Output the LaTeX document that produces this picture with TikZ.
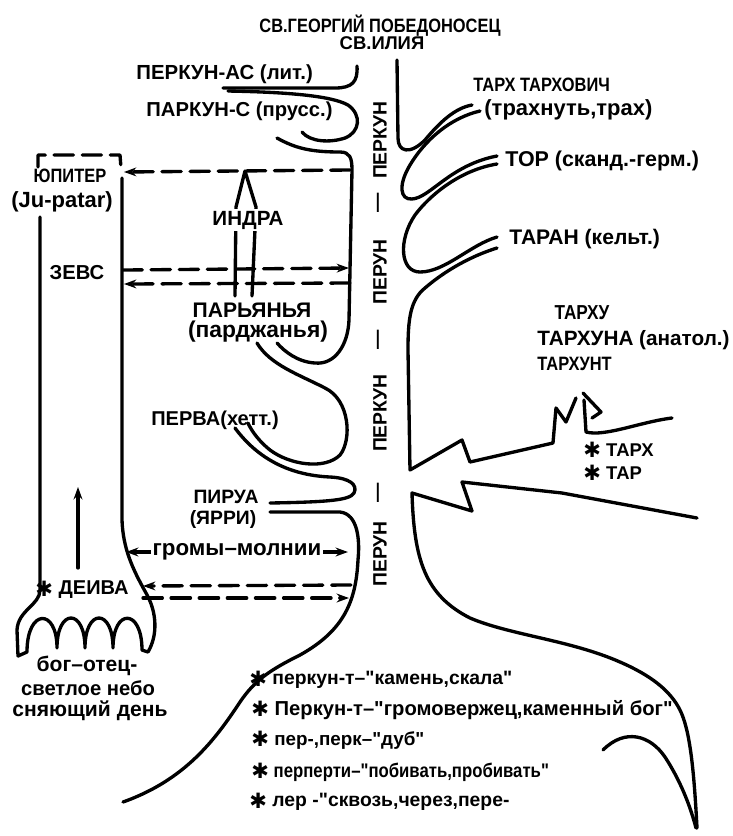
\documentclass[tikz,border=0pt]{standalone}
\usepackage{fontspec}
\newfontfamily\labf{Liberation Sans}
\newfontfamily\condf{Liberation Sans}[FakeStretch=0.85]
\newfontfamily\starfont{DejaVu Sans}
\usetikzlibrary{arrows.meta}

\newcommand\fs[1]{\fontsize{#1}{#1}\labf\bfseries}
\newcommand\fc[1]{\fontsize{#1}{#1}\condf\bfseries}
\newcommand\zv{\raisebox{-0.8pt}{\starfont\fontsize{12}{12}\selectfont ✱}}

\tikzset{
  lab/.style={inner sep=1pt,font=\fs{11}},
  vlab/.style={lab,rotate=90},
  dsh/.style={dash pattern=on 11pt off 5pt},
  cover/.style={fill=white},
}

\begin{document}
\begin{tikzpicture}[line cap=round,line join=round,>={Stealth[length=7pt,width=5pt]},x=0.2mm,y=-0.2mm,line width=1.9pt]

\useasboundingbox (0,0) rectangle (733,836);

%left edge of the trunk
\draw (357,66) .. controls (358,82) and (352,88) .. (335,88) -- (223,88); %perkun-as
\draw (228,91) .. controls (280,92) and (330,95) .. (348,105) .. controls (362,115) and (360,132) .. (345,138) .. controls (330,143) and (310,142) .. (302,132); %parkun-s
\draw (277,138) .. controls (295,148) and (310,152) .. (340,152) .. controls (350,152) and (352,158) .. (352,170) -- (349,320) .. controls (348,345) and (335,365) .. (315,363) .. controls (298,362) and (285,352) .. (277,343);
\draw (257,343) .. controls (270,365) and (300,375) .. (325,388) .. controls (350,400) and (352,440) .. (340,455) .. controls (325,470) and (290,465) .. (270,450) .. controls (260,442) and (252,432) .. (248,423); %perva
\draw (235,428) .. controls (255,455) and (285,475) .. (330,477) .. controls (350,478) and (358,485) .. (354,493) .. controls (350,500) and (330,502) .. (270,503); %pirua
\draw (270,512) -- (340,512) .. controls (358,514) and (360,540) .. (358,560) .. controls (356,600) and (345,630) .. (300,655) .. controls (270,670) and (255,680) .. (240,702) .. controls (215,740) and (185,780) .. (123,802); %root left

%right edge of the trunk
\draw (397,60) -- (398,138) .. controls (398,152) and (410,155) .. (425,140) .. controls (440,122) and (455,108) .. (472,105); %tarh
\draw (480,111) .. controls (450,118) and (425,140) .. (410,165) .. controls (398,185) and (400,200) .. (412,199) .. controls (430,198) and (450,165) .. (497,156); %tor
\draw (497,164) .. controls (460,170) and (430,195) .. (415,215) .. controls (398,240) and (400,272) .. (420,272) .. controls (445,272) and (470,245) .. (497,237); %taran
\draw (497,248) .. controls (465,258) and (440,275) .. (425,288) .. controls (410,300) and (408,320) .. (408,350) -- (410,470) -- (462,440) -- (470,462) -- (553,443) -- (556,408) -- (566,422) -- (576,398); %upper bolt
\draw (672,418) .. controls (640,422) and (605,437) .. (586,432) -- (584,400);
\draw (583,393) -- (601,412) -- (592,418);
\draw (697,518) -- (562,493) -- (462,482) -- (472,511) -- (412,493) .. controls (414,560) and (425,595) .. (470,618) .. controls (510,635) and (570,640) .. (620,662) .. controls (650,675) and (670,690) .. (680,710) .. controls (690,730) and (694,770) .. (697,828); %lower bolt, root right
\draw (603,750) .. controls (625,728) and (650,735) .. (665,757) .. controls (680,780) and (690,805) .. (696,828);

%column of the sky god
\draw[dsh] (38,167) -- (38,155) -- (120,155) -- (121,168);
\draw (40,217) -- (40,590) .. controls (40,605) and (18,610) .. (17,630) -- (18,656) -- (27,652)
  .. controls (27,608) and (57,608) .. (57,648) .. controls (57,608) and (85,608) .. (85,648)
  .. controls (85,608) and (113,608) .. (113,648) .. controls (113,608) and (142,608) .. (142,650)
  -- (148,652) .. controls (158,635) and (157,612) .. (146,593) .. controls (132,568) and (123,548) .. (122,520) -- (122,178);
\draw[->] (78,568) coordinate (deivaUp) -- (78,487) coordinate (deivaTop);

%links between column and trunk
\draw (124,172) coordinate (jupR) (350,170) coordinate (jupT);
\draw (123,270) coordinate (zevR1) (349,268) coordinate (zevT1);
\draw (124,284) coordinate (zevR2) (350,283) coordinate (zevT2);
\draw (126,552) coordinate (grL) (348,552) coordinate (grR);
\draw (143,586) coordinate (deiR1) (351,585) coordinate (deiT1);
\draw (143,598) coordinate (deiR2) (349,598) coordinate (deiT2);
\draw[dsh,->] (jupT) -- (jupR);
\draw[dsh,->] (zevR1) -- (zevT1);
\draw[dsh,->] (zevT2) -- (zevR2);
\draw[<->] (grL) -- (grR);
\draw[dsh,->] (deiT1) -- (deiR1);
\draw[dsh,->] (deiR2) -- (deiT2);

%indra arrow
\draw (235,296) -- (236,207) -- (245,171) -- (256,207) -- (252,296);

%labels on the top
\node[lab,font=\fc{11}] (georg) at (380,26) {СВ.ГЕОРГИЙ ПОБЕДОНОСЕЦ};
\node[lab,font=\fs{10.5}] (ilia) at (382,43) {СВ.ИЛИЯ};

%labels on the left
\node[lab,anchor=west,font=\fs{11.6}] (perkas) at (133,74) {ПЕРКУН-АС (лит.)};
\node[lab,anchor=west,font=\fs{11.5}] (parkus) at (143,111) {ПАРКУН-С (прусс.)};
\node[lab,font=\fc{11}] (jupiter) at (70,176) {ЮПИТЕР};
\node[lab,font=\fs{12.5}] (jupatar) at (62,202) {(Ju-patar)};
\node[lab,font=\fs{11.5}] (zevs) at (77,273) {ЗЕВС};
\node[lab,cover,font=\fs{11.7}] (indra) at (248,220) {ИНДРА};
\node[lab,font=\fs{12}] (parjania) at (252,310) {ПАРЬЯНЬЯ};
\node[lab,font=\fs{13}] (pardjania) at (258,332) {(парджанья)};
\node[lab,font=\fs{11.4}] (perva) at (215,420) {ПЕРВА(хетт.)};
\node[lab] (pirua) at (226,497) {ПИРУА};
\node[lab] (jarri) at (223,519) {(ЯРРИ)};
\node[lab,cover,font=\fs{12.7}] (gromy) at (237,552) {громы–молнии};
\node[lab,font=\fs{11.4}] (deiva) at (82,590) {\zv\ ДЕИВА};
\node[lab,font=\fs{12}] (bog1) at (87,666) {бог–отец-};
\node[lab,font=\fs{11.5}] (bog2) at (88,688) {светлое небо};
\node[lab,font=\fs{12}] (bog3) at (90,711) {сняющий день};

%labels on the trunk
\node[vlab] (v1) at (380,140) {ПЕРКУН};
\node[vlab] (v2) at (380,203) {—};
\node[vlab] (v3) at (380,272) {ПЕРУН};
\node[vlab] (v4) at (380,340) {—};
\node[vlab] (v5) at (380,413) {ПЕРКУН};
\node[vlab] (v6) at (380,493) {—};
\node[vlab] (v7) at (380,554) {ПЕРУН};

%labels on the right
\node[lab,anchor=west,font=\fc{11}] (tarh) at (470,85) {ТАРХ ТАРХОВИЧ};
\node[lab,anchor=west,font=\fs{12.5}] (trah) at (481,110) {(трахнуть,трах)};
\node[lab,anchor=west,font=\fs{12.2}] (tor) at (502,161) {ТОР (сканд.-герм.)};
\node[lab,anchor=west,font=\fs{12}] (taran) at (506,239) {ТАРАН (кельт.)};
\node[lab,font=\fc{11.5}] (tarhu) at (582,313) {ТАРХУ};
\node[lab,anchor=west,font=\fs{11.8}] (tarhuna) at (534,340) {ТАРХУНА (анатол.)};
\node[lab,anchor=west,font=\fc{11}] (tarhunt) at (534,364) {ТАРХУНТ};
\node[lab,anchor=west,font=\fs{10.5}] (tarhr) at (580,450) {\zv\ ТАРХ};
\node[lab,anchor=west,font=\fs{10.5}] (tarr) at (580,473) {\zv\ ТАР};

%roots
\node[lab,anchor=west] (r1) at (246,680) {\zv\ перкун-т–"камень,скала"};
\node[lab,anchor=west,font=\fs{11.5}] (r2) at (248,710) {\zv\ Перкун-т–"громовержец,каменный бог"};
\node[lab,anchor=west,font=\fs{10.7}] (r3) at (248,740) {\zv\ пер-,перк–"дуб"};
\node[lab,anchor=west,font=\fc{11.2}] (r4) at (248,772) {\zv\ перперти–"побивать,пробивать"};
\node[lab,anchor=west] (r5) at (246,802) {\zv\ лер -"сквозь,через,пере-};

\end{tikzpicture}
\end{document}
